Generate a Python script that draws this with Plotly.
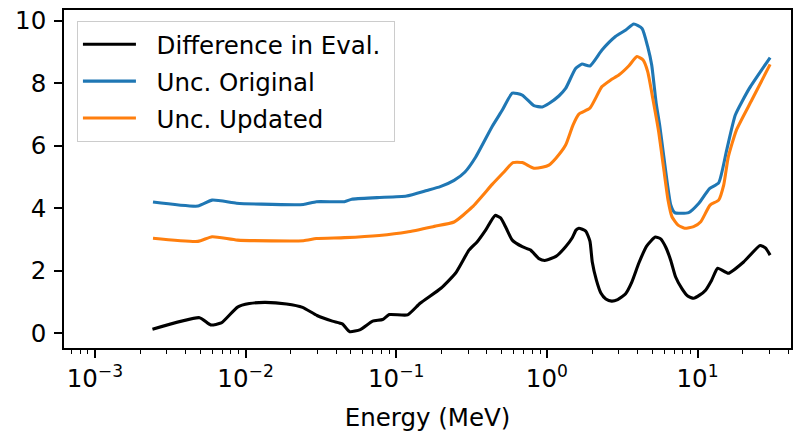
import plotly.graph_objects as go

# ---------------- data ----------------
energy_diff = [0.00241, 0.00495, 0.00586, 0.00690, 0.00885, 0.0106, 0.01337, 0.0187,
               0.0239, 0.0298, 0.0377, 0.0439, 0.0492, 0.0578, 0.0697, 0.0812, 0.0899,
               0.119, 0.144, 0.198, 0.248, 0.304, 0.345, 0.392, 0.453, 0.493, 0.536, 0.589,
               0.686, 0.780, 0.885, 0.970, 1.148, 1.331, 1.47, 1.56, 1.63, 1.81, 1.93, 2.00,
               2.13, 2.28, 2.46, 2.69, 2.95, 3.32, 3.66, 4.07, 4.59, 5.24, 5.69, 6.14, 6.63,
               7.15, 7.87, 8.60, 9.41, 10.3, 11.3, 12.4, 13.6, 16.0,
               20.2, 26.0, 28.2, 30.3]
diff_eval = [0.13, 0.50, 0.27, 0.33, 0.84, 0.95, 0.99, 0.94,
             0.83, 0.57, 0.39, 0.30, 0.05, 0.12, 0.39, 0.44, 0.60,
             0.59, 0.96, 1.44, 1.93, 2.66, 2.93, 3.30, 3.77, 3.69, 3.37, 2.98,
             2.77, 2.66, 2.39, 2.33, 2.46, 2.77, 3.05, 3.30, 3.36, 3.27, 2.95, 2.28,
             1.70, 1.29, 1.10, 1.03, 1.08, 1.26, 1.64, 2.24, 2.79, 3.08, 3.02, 2.76, 2.34,
             1.80, 1.43, 1.19, 1.12, 1.22, 1.38, 1.70, 2.08, 1.92,
             2.28, 2.81, 2.73, 2.50]

energy_orig = [0.00243, 0.00483, 0.00600, 0.00871, 0.01276, 0.0242, 0.0295, 0.0453,
               0.0507, 0.0748, 0.117, 0.160, 0.196, 0.242, 0.286, 0.337, 0.435, 0.506,
               0.589, 0.686, 0.820, 0.931, 1.031, 1.20, 1.331, 1.55, 1.71, 1.93, 2.32,
               2.85, 3.34, 3.77, 4.28, 4.67, 4.96, 5.31, 5.60, 5.95, 6.29, 6.63, 7.05,
               8.72, 10.2, 12.0, 13.8, 15.6, 17.8, 22.1, 30.3]
unc_orig = [4.20, 4.07, 4.26, 4.16, 4.13, 4.12, 4.21, 4.21,
            4.29, 4.34, 4.39, 4.57, 4.69, 4.89, 5.16, 5.64, 6.63, 7.14,
            7.68, 7.62, 7.28, 7.24, 7.35, 7.59, 7.83, 8.47, 8.61, 8.55, 9.06,
            9.49, 9.70, 9.89, 9.75, 9.16, 8.58, 7.36, 6.66, 5.70, 4.81, 4.11, 3.86,
            3.86, 4.16, 4.63, 4.81, 5.86, 6.98, 7.84, 8.82]

energy_upd = [0.00243, 0.00483, 0.00600, 0.00885, 0.0242, 0.0295, 0.0453, 0.0771,
              0.118, 0.179, 0.242, 0.320, 0.435, 0.519, 0.595, 0.686, 0.820, 0.931,
              1.031, 1.148, 1.331, 1.49, 1.63, 1.93, 2.32, 2.65, 3.00, 3.49, 3.96,
              4.35, 4.67, 5.04, 5.52, 5.95, 6.37, 6.77, 7.42, 8.20, 9.41, 10.5, 12.1,
              13.8, 14.9, 16.0, 18.1, 22.9, 30.3]
unc_upd = [3.04, 2.94, 3.09, 2.98, 2.96, 3.03, 3.06, 3.13,
           3.24, 3.42, 3.56, 4.04, 4.77, 5.16, 5.46, 5.46, 5.28, 5.31,
           5.38, 5.60, 6.02, 6.66, 7.01, 7.20, 7.89, 8.10, 8.26, 8.55, 8.85,
           8.74, 8.36, 7.52, 6.44, 5.29, 4.26, 3.72, 3.46, 3.36, 3.41, 3.57, 4.10,
           4.26, 4.74, 5.65, 6.50, 7.46, 8.60]

series_names = ["Difference in Eval.", "Unc. Original", "Unc. Updated"]
major_ticks = [1e-3, 1e-2, 1e-1, 1, 10]
major_labels = ["10<sup>\u22123</sup>", "10<sup>\u22122</sup>", "10<sup>\u22121</sup>",
                "10<sup>0</sup>", "10<sup>1</sup>"]
y_ticks = [0, 2, 4, 6, 8, 10]

FONT = "DejaVu Sans"
FS = 24.5
PAD = "\u00a0\u00a0"

minor_ticks = [k * 10.0 ** n for n in range(-4, 2) for k in range(2, 10)
               if 6.2e-4 < k * 10.0 ** n < 41.7]

fig = go.Figure()
for xs, ys, name, color in [
    (energy_diff, diff_eval, series_names[0], "black"),
    (energy_orig, unc_orig, series_names[1], "#1f77b4"),
    (energy_upd, unc_upd, series_names[2], "#ff7f0e"),
]:
    fig.add_trace(go.Scatter(x=xs, y=ys, mode="lines", name=PAD + name + "\u00a0", legendgroup=name,
                             line=dict(color=color, width=3.1, shape="spline", smoothing=0.5)))

axis_common = dict(showline=True, linecolor="black", linewidth=1.6, mirror=True,
                   showgrid=False, zeroline=False, ticks="outside", tickcolor="black",
                   tickwidth=1.6, tickfont=dict(family=FONT, size=FS, color="black"))

fig.update_xaxes(type="log", range=[-3.205, 1.62], tickmode="array",
                 tickvals=major_ticks, ticktext=major_labels, ticklen=8,
                 minor=dict(tickmode="array", tickvals=minor_ticks, ticks="outside",
                            ticklen=4.5, tickwidth=1.2, tickcolor="black"),
                 title=dict(text="Energy (MeV)", font=dict(family=FONT, size=FS, color="black"),
                            standoff=19),
                 **axis_common)
fig.update_yaxes(range=[-0.47, 10.34], tickmode="array", tickvals=y_ticks, ticklen=8,
                 ticklabelstandoff=3, **axis_common)

fig.update_layout(
    width=794, height=432,
    margin=dict(l=64, r=1, t=10, b=84),
    paper_bgcolor="white", plot_bgcolor="white",
    font=dict(family=FONT, size=FS, color="black"),
    showlegend=True,
    legend=dict(x=0.0178, y=0.968, xanchor="left", yanchor="top",
                bgcolor="rgba(255,255,255,0.8)", bordercolor="#cccccc", borderwidth=1,
                font=dict(family=FONT, size=FS, color="black"),
                tracegroupgap=2, itemwidth=53, traceorder="grouped"),
)

fig.write_html("out.html")
